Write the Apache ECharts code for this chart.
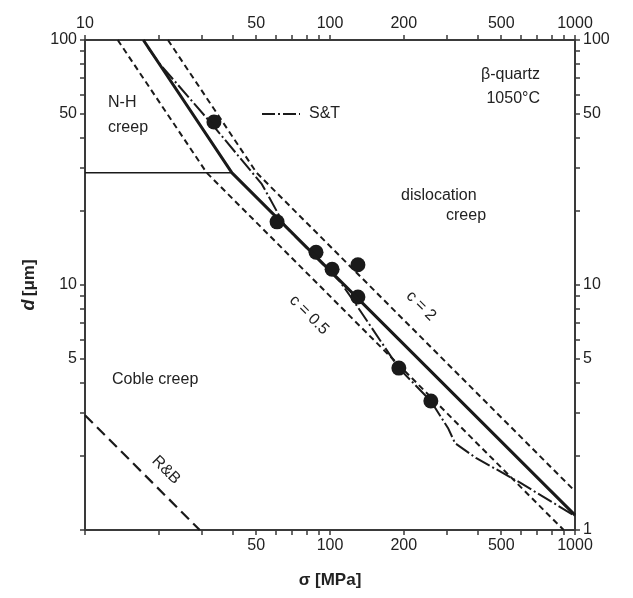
<!DOCTYPE html>
<html>
<head>
<meta charset="utf-8">
<script src="https://cdn.jsdelivr.net/npm/echarts@6/dist/echarts.min.js"></script>
<style>
  html, body { margin: 0; padding: 0; background: #fff; }
  #chart { width: 633px; height: 598px; }
</style>
</head>
<body>
<div id="chart"></div>
<script>
// tick labels
const xLabelsTop = [10, 50, 100, 200, 500, 1000]
const xLabelsBottom = [50, 100, 200, 500, 1000]
const yLabelsLeft = [5, 10, 50, 100]
const yLabelsRight = [1, 5, 10, 50, 100]
const xTicks = [10, 20, 30, 40, 50, 60, 70, 80, 90, 100, 200, 300, 400, 500, 600, 700, 800, 900, 1000]
const yTicks = [1, 2, 3, 4, 5, 6, 7, 8, 9, 10, 20, 30, 40, 50, 60, 70, 80, 90, 100]

// [sigma MPa, d um]
const boundaryC1 = [[17.3, 100], [39.8, 28.7], [1000, 1.15]]
const boundaryC05 = [[13.6, 100], [31.4, 28.7], [899, 1]]
const boundaryC2 = [[21.8, 100], [50.2, 28.7], [1000, 1.44]]
const nhBoundary = [[10, 28.7], [39.8, 28.7]]
const stLine = [[18.1, 92.8], [20.2, 79.8], [32.4, 46.3], [52.7, 25.8], [65.5, 17.4], [110, 10.3],
  [124, 8.69], [191, 4.58], [258, 3.36], [303, 2.61], [324, 2.26], [394, 1.97], [597, 1.56], [1000, 1.14]]
const rbLine = [[10, 2.94], [29.4, 1]]
const measured = [[33.6, 46.3], [60.8, 18.1], [87.7, 13.6], [102, 11.6], [130, 12.1], [130, 8.93], [191, 4.58], [258, 3.36]]

const font = '"Liberation Sans", Arial, sans-serif'
const ink = '#1a1a1a'
const axisColor = '#3a3a3a'

function makeX(position, labels) {
  return {
    type: 'log', logBase: 10, min: 10, max: 1000, position: position,
    axisLine: { show: true, onZero: false, lineStyle: { color: axisColor, width: 2 } },
    axisTick: { show: true, customValues: xTicks, length: 5, lineStyle: { color: axisColor, width: 1.5 } },
    axisLabel: {
      show: true, customValues: labels, color: '#222', fontSize: 16, fontFamily: font, margin: 8,
      formatter: v => String(Math.round(v))
    },
    splitLine: { show: false }, minorTick: { show: false }
  }
}
function makeY(position, labels) {
  return {
    type: 'log', logBase: 10, min: 1, max: 100, position: position,
    axisLine: { show: true, onZero: false, lineStyle: { color: axisColor, width: 2 } },
    axisTick: { show: true, customValues: yTicks, length: 5, lineStyle: { color: axisColor, width: 1.5 } },
    axisLabel: {
      show: true, customValues: labels, color: '#222', fontSize: 16, fontFamily: font, margin: 8,
      formatter: v => String(Math.round(v))
    },
    splitLine: { show: false }, minorTick: { show: false }
  }
}

const xBottom = makeX('bottom', xLabelsBottom)
xBottom.name = 'σ [MPa]'
xBottom.nameLocation = 'middle'
xBottom.nameGap = 42
xBottom.nameTextStyle = { fontSize: 17, fontWeight: 'bold', color: '#222', fontFamily: font }
const xTop = makeX('top', xLabelsTop)

const yLeft = makeY('left', yLabelsLeft)
yLeft.name = '{i|d} {b|[μm]}'
yLeft.nameLocation = 'middle'
yLeft.nameGap = 47
yLeft.nameRotate = 90
yLeft.nameTextStyle = {
  color: '#222', fontFamily: font,
  rich: {
    i: { fontSize: 18, fontWeight: 'bold', fontStyle: 'italic', fontFamily: font, color: '#222' },
    b: { fontSize: 17, fontWeight: 'bold', fontFamily: font, color: '#222' }
  }
}
const yRight = makeY('right', yLabelsRight)

function lineSeries(data, width, type) {
  return {
    type: 'line', data: data, xAxisIndex: 0, yAxisIndex: 0,
    showSymbol: false, symbol: 'none', silent: true, animation: false,
    lineStyle: { color: ink, width: width, type: type, opacity: 1 }
  }
}

const txt = (text, x, y, extra) => Object.assign({
  type: 'text', x: x, y: y,
  style: { text: text, font: '16px ' + font, fill: '#222', textVerticalAlign: 'middle' }
}, extra || {})

const chart = echarts.init(document.getElementById('chart'))
chart.setOption({
  animation: false,
  grid: { left: 85, right: 58, top: 40, bottom: 68, containLabel: false },
  xAxis: [xBottom, xTop],
  yAxis: [yLeft, yRight],
  series: [
    lineSeries(boundaryC1, 3, 'solid'),
    lineSeries(boundaryC05, 2, [6, 4]),
    lineSeries(boundaryC2, 2, [6, 4]),
    lineSeries(nhBoundary, 1.5, 'solid'),
    lineSeries(stLine, 2, [16, 3, 2, 3]),
    lineSeries(rbLine, 2.2, [11, 6]),
    {
      type: 'scatter', data: measured, xAxisIndex: 0, yAxisIndex: 0,
      symbol: 'circle', symbolSize: 15, itemStyle: { color: ink, opacity: 1 }, silent: true
    }
  ],
  graphic: [
    txt('N-H', 108, 103),
    txt('creep', 108, 128),
    { type: 'line', shape: { x1: 262, y1: 114, x2: 300, y2: 114 }, style: { stroke: ink, lineWidth: 2, lineDash: [13, 3, 2, 3] } },
    txt('S&T', 309, 114),
    { type: 'text', x: 540, y: 75, style: { text: 'β-quartz', font: '16px ' + font, fill: '#222', textAlign: 'right', textVerticalAlign: 'middle' } },
    { type: 'text', x: 540, y: 99, style: { text: '1050°C', font: '16px ' + font, fill: '#222', textAlign: 'right', textVerticalAlign: 'middle' } },
    txt('dislocation', 401, 196),
    txt('creep', 446, 216),
    txt('Coble creep', 112, 380),
    { type: 'text', x: 421, y: 306, rotation: -Math.PI / 4, style: { text: 'c = 2', font: '16px ' + font, fill: '#222', textAlign: 'center', textVerticalAlign: 'middle' } },
    { type: 'text', x: 309, y: 315, rotation: -Math.PI / 4, style: { text: 'c = 0.5', font: '16px ' + font, fill: '#222', textAlign: 'center', textVerticalAlign: 'middle' } },
    { type: 'text', x: 166, y: 470, rotation: -Math.PI / 4, style: { text: 'R&B', font: '16px ' + font, fill: '#222', textAlign: 'center', textVerticalAlign: 'middle' } }
  ]
})
</script>
</body>
</html>
